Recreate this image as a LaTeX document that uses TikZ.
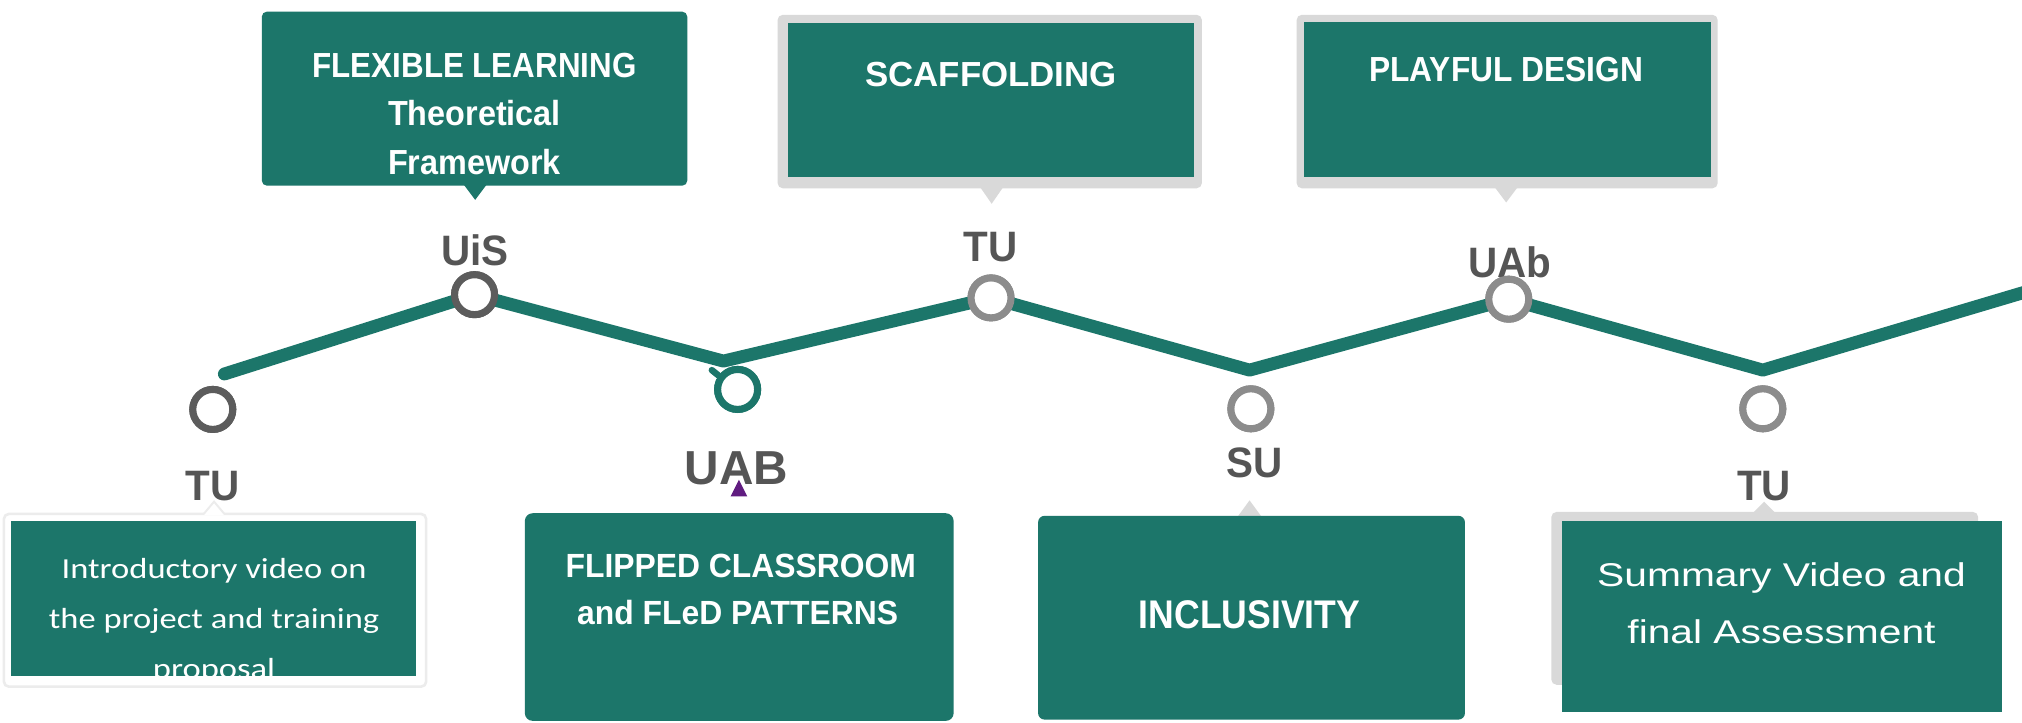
\documentclass[tikz,border=0pt]{standalone}
\usepackage{fontspec}
\setmainfont{Liberation Sans}
\newfontfamily\calib{Carlito}
\usepackage{graphicx}
\usetikzlibrary{fit}
\definecolor{tealc}{RGB}{28,118,106}
\definecolor{grayframe}{RGB}{217,217,217}
\definecolor{darkring}{RGB}{92,92,92}
\definecolor{lightring}{RGB}{140,140,140}
\definecolor{labelgray}{RGB}{85,85,85}
\definecolor{purp}{RGB}{96,28,128}
\definecolor{faint}{RGB}{236,236,236}
\newcommand{\hs}[2]{\scalebox{#1}[1]{#2}}
\begin{document}
\begin{tikzpicture}[x=1pt,y=-1pt,
  tealbox/.style={fill=tealc, draw=none, inner sep=0pt, rounded corners=4pt},
  tealsharp/.style={fill=tealc, draw=none, inner sep=0pt},
  frame/.style={fill=grayframe, draw=none, inner sep=0pt, rounded corners=4pt},
  ring/.style={circle, fill=white, line width=5.5pt, minimum size=31pt, inner sep=0pt},
  lab/.style={anchor=base, text=labelgray, inner sep=0pt, font=\fontsize{33}{38}\selectfont\bfseries},
  btxt/.style={anchor=base, text=white, inner sep=0pt, font=\fontsize{27}{32}\selectfont\bfseries},
  rtxt/.style={anchor=base, text=white, inner sep=0pt, font=\fontsize{25.5}{30}\selectfont},
  ctxt/.style={anchor=base, text=white, inner sep=0pt, font=\calib\fontsize{22.5}{27}\selectfont},
  zig/.style={draw=tealc, line width=10pt, line cap=round, line join=round}
]
\useasboundingbox (0,0) rectangle (1568,560);
\fill[white] (0,0) rectangle (1568,560);

% ---------- top boxes ----------
\node[tealbox, fit={(203,9) (533,144)}] (b1) {};
\fill[tealc] (359.5,143) -- (368.5,155) -- (377.5,143) -- cycle;
\node[btxt] (t1a) at (368,60) {\hs{0.90}{FLEXIBLE LEARNING}};
\node[btxt] (t1b) at (368,97) {\hs{0.93}{Theoretical}};
\node[btxt] (t1c) at (368,135) {\hs{0.93}{Framework}};

\node[frame, fit={(603,11.5) (932,146)}] (f2) {};
\node[tealsharp, fit={(611,17.5) (926,137)}] (b2) {};
\fill[grayframe] (760,145) -- (769,158) -- (778,145) -- cycle;
\node[btxt] (t2) at (768.5,67) {SCAFFOLDING};

\node[frame, fit={(1005.5,11.5) (1332,146)}] (f3) {};
\node[tealsharp, fit={(1011,17) (1327,137)}] (b3) {};
\fill[grayframe] (1159,145) -- (1168,157) -- (1177,145) -- cycle;
\node[btxt] (t3) at (1168,63) {\hs{0.91}{PLAYFUL DESIGN}};

% ---------- zigzag ----------
\node[ring, draw=darkring] (cTU1) at (165,317.5) {};
\node[ring, draw=darkring] (cUiS) at (368,228.5) {};
\node[ring, draw=tealc] (cUAB) at (572,302) {};
\node[ring, draw=lightring] (cTU2) at (768.5,231) {};
\node[ring, draw=lightring] (cSU) at (970,317) {};
\node[ring, draw=lightring] (cUAb) at (1170,232) {};
\node[ring, draw=lightring] (cTU3) at (1367,317) {};

\coordinate (v0) at (174,290);
\coordinate (v2) at (561,280);
\coordinate (v4) at (969,287);
\coordinate (v6) at (1367,287);
\coordinate (v8) at (1572,226);

\path[zig] (v0) -- (cUiS.center) -- (v2) -- (cTU2.center) -- (v4) -- (cUAb.center) -- (v6) -- (v8);
\draw[tealc, line width=5pt, line cap=round] (552,287) -- (557,291);

% labels
\node[lab] (lTU1) at (165,388) {\hs{0.95}{TU}};
\node[lab] (lUiS) at (368.5,205.5) {\hs{0.95}{UiS}};
\node[lab, font=\fontsize{37}{42}\selectfont\bfseries] (lUAB) at (571,376) {UAB};
\node[lab] (lTU2) at (768,203) {\hs{0.95}{TU}};
\node[lab] (lSU) at (973,370) {\hs{0.95}{SU}};
\node[lab] (lUAb) at (1171,215) {\hs{0.95}{UAb}};
\node[lab] (lTU3) at (1368,388) {\hs{0.95}{TU}};

% rings drawn again on top of line and labels
\node[ring, draw=darkring] at (cTU1) {};
\node[ring, draw=darkring] at (cUiS) {};
\node[ring, draw=tealc] at (cUAB) {};
\node[ring, draw=lightring] at (cTU2) {};
\node[ring, draw=lightring] at (cSU) {};
\node[ring, draw=lightring] at (cUAb) {};
\node[ring, draw=lightring] at (cTU3) {};

% purple marker
\fill[purp] (573,372) -- (566.5,385) -- (579.5,385) -- cycle;

% ---------- bottom boxes ----------
% A
\node[fill=white, draw=faint, line width=2pt, rounded corners=4pt, inner sep=0pt, fit={(3,398.5) (330.5,532.5)}] (fA) {};
\node[tealsharp, fit={(8.7,404) (322.5,524)}] (bA) {};
\fill[white] (158,399.5) -- (166,389) -- (174,399.5) -- cycle;
\draw[faint, line width=1.5pt] (158,398.5) -- (166,389) -- (174,398.5);
\begin{scope}
\clip (8.7,404) rectangle (322.5,524);
\node[ctxt] (tA1) at (166,448.5) {\hs{1.19}{Introductory video on}};
\node[ctxt] (tA2) at (166,487) {\hs{1.19}{the project and training}};
\node[ctxt] (tA3) at (166,526.5) {\hs{1.19}{proposal}};
\end{scope}

% B
\node[tealbox, rounded corners=6pt, fit={(407,398) (739.5,559)}] (bB) {};
\node[btxt, font=\fontsize{26}{31}\selectfont\bfseries] (tB1) at (574.5,447.5) {\hs{0.95}{FLIPPED CLASSROOM}};
\node[btxt, font=\fontsize{26}{31}\selectfont\bfseries] (tB2) at (572,484.5) {\hs{0.95}{and FLeD PATTERNS}};

% C
\fill[grayframe] (959.5,401) -- (969,388) -- (978.5,401) -- cycle;
\node[tealbox, rounded corners=5pt, fit={(805,400) (1136,558)}] (bC) {};
\node[btxt, font=\fontsize{31}{36}\selectfont\bfseries] (tC) at (969,487) {\hs{0.89}{INCLUSIVITY}};

% D
\fill[grayframe] (1359,398) -- (1368,389) -- (1377,398) -- cycle;
\node[frame, fit={(1203,397) (1534,531)}] (fD) {};
\node[tealsharp, fit={(1211,404) (1552.5,552)}] (bD) {};
\node[rtxt] (tD1) at (1381.5,454.5) {\hs{1.24}{Summary Video and}};
\node[rtxt] (tD2) at (1381.5,498.8) {\hs{1.24}{final Assessment}};
\end{tikzpicture}
\end{document}
